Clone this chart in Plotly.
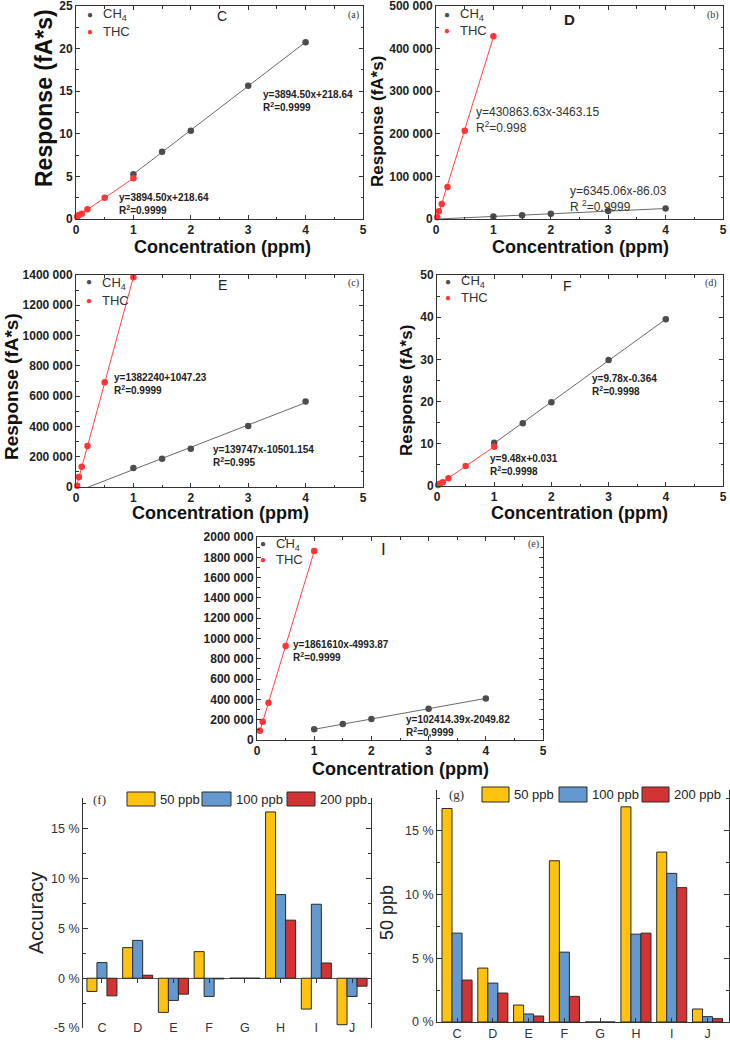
import numpy as np
import plotly.graph_objects as go

W, H = 730, 1042

# ---------------- data: calibration panels ----------------
thc_x = [0.02, 0.05, 0.1, 0.2, 0.5, 1]
ch4_x = [1, 1.5, 2, 3, 4]
e_thc_x = [0.05, 0.1, 0.2, 0.5, 1]

a_ch4 = [5.24, 7.9, 10.37, 15.65, 20.74]
a_thc = [0.27, 0.47, 0.63, 1.13, 2.5, 4.77]
b_ch4 = [6000, 9000, 12300, 18500, 24500]
b_thc = [4000, 18000, 35000, 75000, 207000, 429000]
c_ch4 = [126000, 186000, 252500, 403000, 565000]
c_thc = [9000, 66000, 133000, 270000, 691000, 1385000]
d_ch4 = [10.27, 14.85, 19.83, 29.86, 39.5]
d_thc = [0.24, 0.55, 0.87, 1.82, 4.74, 9.32]
e_ch4 = [105000, 157000, 207000, 308000, 410000]
e_thc = [90000, 180000, 367000, 925000, 1862000]

# x-extent of each fitted line (ppm)
a_fit_span = {"thc": [0.0, 1.0], "ch4": [1.0, 4.0]}
b_fit_span = {"thc": [0.0, 1.0], "ch4": [0.0, 4.0]}
c_fit_span = {"thc": [0.0, 1.0], "ch4": [0.0, 4.0]}
d_fit_span = {"thc": [0.02, 1.0], "ch4": [1.0, 4.0]}
e_fit_span = {"thc": [0.05, 1.0], "ch4": [1.0, 4.0]}

# y-axis tick labels
a_ticks = [0, 5, 10, 15, 20, 25]
a_ticktext = ["0", "5", "10", "15", "20", "25"]
b_ticks = [0, 100000, 200000, 300000, 400000, 500000]
b_ticktext = ["0", "100 000", "200 000", "300 000", "400 000", "500 000"]
c_ticks = [0, 200000, 400000, 600000, 800000, 1000000, 1200000, 1400000]
c_ticktext = ["0", "200 000", "400 000", "600 000", "800 000", "1000 000", "1200 000", "1400 000"]
d_ticks = [0, 10, 20, 30, 40, 50]
d_ticktext = ["0", "10", "20", "30", "40", "50"]
e_ticks = [0, 200000, 400000, 600000, 800000, 1000000, 1200000, 1400000, 1600000, 1800000, 2000000]
e_ticktext = ["0", "200 000", "400 000", "600 000", "800 000", "1000 000", "1200 000",
              "1400 000", "1600 000", "1800 000", "2000 000"]
x_ticks = [0, 1, 2, 3, 4, 5]

# equations
a_eq = ["y=3894.50x+218.64<br>R<sup>2</sup>=0.9999", "y=3894.50x+218.64<br>R<sup>2</sup>=0.9999"]
b_eq = ["y=430863.63x-3463.15<br>R<sup>2</sup>=0.998", "y=6345.06x-86.03<br>R <sup>2</sup>=0.9999"]
c_eq = ["y=1382240+1047.23<br>R<sup>2</sup>=0.9999", "y=139747x-10501.154<br>R<sup>2</sup>=0.995"]
d_eq = ["y=9.78x-0.364<br>R<sup>2</sup>=0.9998", "y=9.48x+0.031<br>R<sup>2</sup>=0.9998"]
e_eq = ["y=1861610x-4993.87<br>R<sup>2</sup>=0.9999", "y=102414.39x-2049.82<br>R<sup>2</sup>=0,9999"]

# ---------------- data: bar panels ----------------
categories = ["C", "D", "E", "F", "G", "H", "I", "J"]
series_names = ["50 ppb", "100 ppb", "200 ppb"]
acc_50 = [-1.33, 3.07, -3.43, 2.67, 0, 16.7, -3.1, -4.67]
acc_100 = [1.57, 3.8, -2.23, -1.83, 0, 8.4, 7.43, -1.83]
acc_200 = [-1.77, 0.3, -1.6, -0.07, 0, 5.83, 1.53, -0.8]
g_50 = [16.75, 4.23, 1.33, 12.65, 0, 16.88, 13.33, 1.02]
g_100 = [6.97, 3.05, 0.63, 5.48, 0, 6.89, 11.66, 0.42]
g_200 = [3.29, 2.27, 0.47, 2.01, 0, 6.97, 10.54, 0.26]
f_ticks = [-5, 0, 5, 10, 15]
f_ticktext = ["-5 %", "0 %", "5 %", "10 %", "15 %"]
g_ticks = [0, 5, 10, 15]
g_ticktext = ["0 %", "5 %", "10 %", "15 %"]

# ---------------- styles ----------------
GRAY_M = "#4d4d4d"
GRAY_L = "#6a6a6a"
RED_M = "#ff3535"
RED_L = "#ff4545"
BAR_COLORS = ["#FFC20E", "#6399CE", "#D23434"]
AX = "#333333"
NARROW = "Liberation Sans Narrow, Arial Narrow, Liberation Sans, Arial"
SANS = "Liberation Sans, Arial, sans-serif"
SERIF = "Liberation Serif, Times New Roman, serif"


def xd(x0, x1):
    return [x0 / W, x1 / W]


def yd(y0, y1):
    return [1 - y1 / H, 1 - y0 / H]


def px(x):
    return x / W


def py(y):
    return 1 - y / H


fig = go.Figure()
annotations = []
shapes = []


def ann(x, y, text, size=12, color="#222", bold=False, xanchor="center", yanchor="middle",
        family=SANS, angle=0):
    annotations.append(dict(
        x=px(x), y=py(y), xref="paper", yref="paper", text=text, showarrow=False,
        xanchor=xanchor, yanchor=yanchor, textangle=angle, align="left",
        font=dict(size=size, color=color, family=family, weight="bold" if bold else "normal")))


def fit_line(xs, ys, span):
    k, b = np.polyfit(xs, ys, 1)
    return span, [k * span[0] + b, k * span[1] + b]


panels = [
    ("", (76, 363), (6, 219), [0, 25], a_ticks, a_ticktext, 2.5,
     thc_x, a_thc, ch4_x, a_ch4, a_fit_span),
    ("2", (436, 723), (6, 219), [0, 500000], b_ticks, b_ticktext, 50000,
     thc_x, b_thc, ch4_x, b_ch4, b_fit_span),
    ("3", (76, 363), (275, 487), [0, 1400000], c_ticks, c_ticktext, 100000,
     thc_x, c_thc, ch4_x, c_ch4, c_fit_span),
    ("4", (437, 723), (275, 486), [0, 50], d_ticks, d_ticktext, 5,
     thc_x, d_thc, ch4_x, d_ch4, d_fit_span),
    ("5", (257, 543), (537, 740), [0, 2000000], e_ticks, e_ticktext, 100000,
     e_thc_x, e_thc, ch4_x, e_ch4, e_fit_span),
]

layout_axes = {}
for (pid, xdom, ydom, yr, yt, ytt, yminor, tx, ty, cx, cy, span) in panels:
    xr = "x" + pid
    yrf = "y" + pid
    for xs, ys, key, col in ((tx, ty, "thc", RED_L), (cx, cy, "ch4", GRAY_L)):
        lx, ly = fit_line(xs, ys, span[key])
        fig.add_trace(go.Scatter(x=lx, y=ly, mode="lines", line=dict(color=col, width=1),
                                 xaxis=xr, yaxis=yrf, showlegend=False, hoverinfo="skip"))
    fig.add_trace(go.Scatter(x=cx, y=cy, mode="markers", marker=dict(color=GRAY_M, size=6.5),
                             xaxis=xr, yaxis=yrf, showlegend=False, cliponaxis=False, name="CH4"))
    fig.add_trace(go.Scatter(x=tx, y=ty, mode="markers", marker=dict(color=RED_M, size=6.5),
                             xaxis=xr, yaxis=yrf, showlegend=False, cliponaxis=False, name="THC"))
    common = dict(showline=True, linecolor=AX, linewidth=1, mirror="ticks", ticks="inside",
                  ticklen=4, tickcolor=AX, showgrid=False, zeroline=False, automargin=False,
                  ticklabeloverflow="allow",
                  tickfont=dict(family=NARROW, size=12, color="#222", weight="bold"))
    layout_axes["xaxis" + pid] = dict(
        domain=xd(*xdom), anchor=yrf, range=[0, 5], tickvals=x_ticks,
        minor=dict(dtick=0.5, ticks="inside", ticklen=2.5, tickcolor=AX), **common)
    layout_axes["yaxis" + pid] = dict(
        domain=yd(*ydom), anchor=xr, range=yr, tickvals=yt, ticktext=ytt,
        minor=dict(dtick=yminor, ticks="inside", ticklen=2.5, tickcolor=AX), **common)

# ---------------- bar panels ----------------
for vals, name, col in zip((acc_50, acc_100, acc_200), series_names, BAR_COLORS):
    fig.add_trace(go.Bar(x=categories, y=vals, name=name,
                         marker=dict(color=col, line=dict(color="#2a2a2a", width=1)),
                         xaxis="x6", yaxis="y6", showlegend=False))
for vals, name, col in zip((g_50, g_100, g_200), series_names, BAR_COLORS):
    fig.add_trace(go.Bar(x=categories, y=vals, name=name,
                         marker=dict(color=col, line=dict(color="#2a2a2a", width=1)),
                         xaxis="x7", yaxis="y7", showlegend=False))
fig.add_trace(go.Scatter(x=categories, y=[0] * len(categories), mode="markers",
                         marker=dict(opacity=0), xaxis="x8", yaxis="y6", showlegend=False, hoverinfo="skip"))

f_top, f_bot = 798, 1028
f_range = [-5, 18.1]
zero_px = f_bot - (0 - f_range[0]) / (f_range[1] - f_range[0]) * (f_bot - f_top)

bar_tickfont = dict(family=SANS, size=12.5, color="#333")
layout_axes["xaxis6"] = dict(domain=xd(83, 371), anchor="free", position=py(zero_px),
                             type="category", range=[-0.53, 7.53], showline=False, ticks="outside",
                             ticklen=4, tickcolor=AX, showticklabels=False, showgrid=False,
                             zeroline=False, automargin=False)
layout_axes["xaxis8"] = dict(domain=xd(83, 371), anchor="free", position=py(1018), overlaying="x6",
                             type="category", range=[-0.53, 7.53], showline=False, ticks="",
                             tickfont=bar_tickfont, showgrid=False, zeroline=False, automargin=False)
layout_axes["yaxis6"] = dict(domain=yd(f_top, f_bot), anchor="x6", range=f_range, tickvals=f_ticks,
                             ticktext=f_ticktext, showline=True, linecolor=AX, mirror="ticks",
                             ticks="inside", ticklen=5, tickcolor=AX, showgrid=False,
                             zeroline=True, zerolinecolor="#555", zerolinewidth=1, automargin=False,
                             ticklabeloverflow="allow",
                             minor=dict(dtick=2.5, ticks="inside", ticklen=3, tickcolor=AX),
                             tickfont=bar_tickfont)
layout_axes["xaxis7"] = dict(domain=xd(437, 729), anchor="y7", type="category", range=[-0.56, 7.6],
                             showline=True, linecolor=AX, ticks="inside", ticklen=4, tickcolor=AX,
                             tickfont=bar_tickfont, showgrid=False, zeroline=False, automargin=False)
layout_axes["yaxis7"] = dict(domain=yd(790, 1022), anchor="x7", range=[0, 18.2], tickvals=g_ticks,
                             ticktext=g_ticktext, showline=True, linecolor=AX, mirror="ticks",
                             ticks="inside", ticklen=5, tickcolor=AX, showgrid=False, zeroline=False,
                             ticklabeloverflow="allow",
                             minor=dict(dtick=2.5, ticks="inside", ticklen=3, tickcolor=AX),
                             tickfont=bar_tickfont, automargin=False)

# ---------------- text: calibration panels ----------------
legend_pos = [(90, 14, 32), (447, 14, 30), (89, 282, 300), (448, 281, 297), (263, 543, 559)]
for (lx, ly1, ly2) in legend_pos:
    ann(lx, ly1, "●", size=10, color=GRAY_M)
    ann(lx, ly2, "●", size=10, color=RED_M)
    ann(lx + 11, ly1 + 1, "CH<sub>4</sub>", size=13, color="#333", xanchor="left")
    ann(lx + 11, ly2, "THC", size=13, color="#333", xanchor="left")

ann(222, 16, "C", size=14)
ann(569, 20, "D", size=15, bold=True)
ann(222, 285, "E", size=14)
ann(567, 286, "F", size=14)
ann(383, 549, "I", size=17)

for (x, y, t) in [(353, 15, "(a)"), (713, 15, "(b)"), (353, 283, "(c)"), (711, 283, "(d)"), (533, 544, "(e)")]:
    ann(x, y, t, size=10, family=SERIF, color="#333")

eqs = [
    (261, 101, a_eq[0], True), (117, 204, a_eq[1], True),
    (474, 120, b_eq[0], False), (568, 199, b_eq[1], False),
    (112, 384, c_eq[0], True), (211, 456, c_eq[1], True),
    (590, 385, d_eq[0], True), (488, 465, d_eq[1], True),
    (291, 651, e_eq[0], True), (404, 726, e_eq[1], True),
]
for (x, y, t, b) in eqs:
    if b:
        ann(x, y, t, size=10, color="#222", bold=True, xanchor="left", family=NARROW)
    else:
        ann(x, y, t, size=12, color="#333", xanchor="left", family=SANS)

for (x, y, s) in [(44, 98, 23), (377, 122, 17), (11, 387, 19), (406, 391, 17)]:
    ann(x, y, "Response (fA*s)", size=s, color="#111", bold=True, angle=-90)
for (x, y) in [(222, 247), (580, 247), (220, 513), (579, 513), (400, 769)]:
    ann(x, y, "Concentration (ppm)", size=18, color="#111", bold=True)

# ---------------- text & legends: bar panels ----------------
ann(36, 913, "Accuracy", size=20, color="#222", angle=-90)
ann(387, 913, "50 ppb", size=18, color="#222", angle=-90)
ann(99, 799, "(f)", size=13, family=SERIF, color="#333")
ann(456, 794, "(g)", size=13, family=SERIF, color="#333")

bar_leg = [
    ((127, 155, 792, 806), (158, 799)), ((202, 231, 792, 806), (234, 799)), ((287, 315, 792, 806), (318, 799)),
    ((482, 509, 787, 802), (512, 794)), ((559, 587, 787, 802), (590, 794)), ((642, 669, 787, 802), (672, 794)),
]
for i, ((x0, x1, y0, y1), (tx, ty)) in enumerate(bar_leg):
    shapes.append(dict(type="rect", xref="paper", yref="paper", x0=px(x0), x1=px(x1), y0=py(y1), y1=py(y0),
                       fillcolor=BAR_COLORS[i % 3], line=dict(color="#2a2a2a", width=1)))
    ann(tx, ty, series_names[i % 3], size=13, color="#222", xanchor="left")

fig.update_layout(
    template="none",
    width=W, height=H, margin=dict(l=0, r=0, t=0, b=0, pad=0, autoexpand=False),
    paper_bgcolor="white", plot_bgcolor="white",
    barmode="group", bargap=0.16, bargroupgap=0,
    showlegend=False, annotations=annotations, shapes=shapes,
    font=dict(family=SANS),
    **layout_axes,
)

fig.write_html("out.html", config={"displayModeBar": False},
               post_script="document.body.style.margin='0px';")
